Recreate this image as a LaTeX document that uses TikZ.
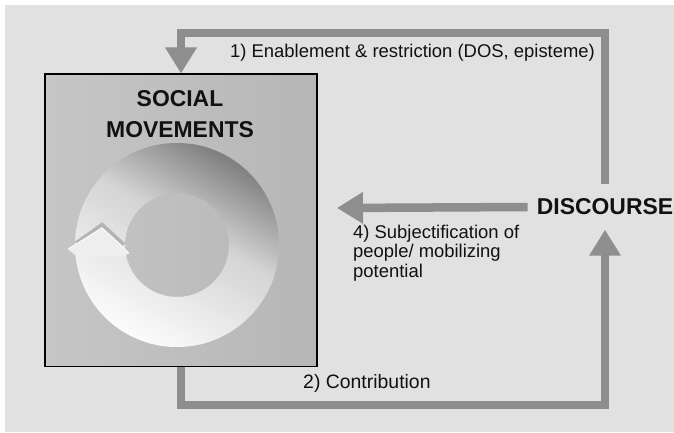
\documentclass[tikz,border=0pt]{standalone}
\usepackage{fontspec}
\setmainfont{Liberation Sans}
\usetikzlibrary{arrows.meta}
\definecolor{bgc}{HTML}{E1E1E1}
\definecolor{barc}{HTML}{8E8E8E}
\definecolor{boxl}{HTML}{C6C6C6}
\definecolor{boxr}{HTML}{B6B6B6}
\definecolor{ringd}{HTML}{7E7E7E}
\definecolor{ringm}{HTML}{D4D4D4}
\definecolor{ringl}{HTML}{FCFCFC}
\definecolor{chev}{HTML}{EEEEEE}
\definecolor{chevsh}{HTML}{B4B4B4}
\definecolor{txt}{HTML}{111111}
\begin{document}
\begin{tikzpicture}[x=1bp,y=1bp,
  bar/.style={draw=barc,line width=8.5bp,line join=miter},
  tip/.style={-{Triangle[width=30bp,length=26bp]}},
  lbl/.style={font=\fontsize{18.5}{20}\selectfont,inner sep=0pt,text=txt},
  title/.style={font=\fontsize{23}{31}\selectfont\bfseries,text=txt}]
\useasboundingbox[fill=white] (0,0) rectangle (674,432);
\fill[bgc] (5,0) rectangle (674,427);
% social movements box
\node[draw=black,line width=1.5bp,left color=boxl,right color=boxr,
      minimum width=272bp,minimum height=292bp,inner sep=0pt,anchor=south west] (box) at (44,65) {};
\node[title,align=center,inner sep=0pt] (sm) at (180,317.5) {SOCIAL\\MOVEMENTS};
% ring (gradient built from strips)
\begin{scope}[even odd rule]
  \clip (177,187) circle[radius=102bp] (177,187) circle[radius=52bp];
  \begin{scope}[rotate around={-30:(177,187)}]
    \foreach \i in {0,...,59}{
      \pgfmathsetmacro\t{(\i+0.5)/60}
      \pgfmathsetmacro\pa{min(100,100*\t/0.6)}
      \pgfmathsetmacro\pb{max(0,100*(\t-0.6)/0.4)}
      \pgfmathsetmacro\ya{85+\i*3.4}
      \pgfmathsetmacro\yb{85+(\i+1)*3.4+0.6}
      \ifdim\t pt<0.6pt
        \fill[ringm!\pa!ringl] (70,\ya) rectangle (284,\yb);
      \else
        \fill[ringd!\pb!ringm] (70,\ya) rectangle (284,\yb);
      \fi
    }
  \end{scope}
\end{scope}
\draw[chevsh,line width=3.5bp] (76,189) -- (102,207.5) -- (124,187.5);
\fill[chev] (68,183) -- (102,204) -- (129,179) -- (124,175) -- (75,177) -- cycle;
\draw[white,line width=0.8bp] (68,183) -- (102,204) -- (129,179);
% discourse
\node[title,minimum height=45bp,inner xsep=9bp,inner ysep=0pt] (disc) at (605,225) {DISCOURSE};
% connectors
\coordinate (tl) at (181,399);
\coordinate (bl) at (181,27);
\coordinate (h4) at (337,224);
\draw[bar,tip] (disc.north) |- (tl) -- (tl |- box.north);
\draw[bar,tip] (bl |- box.south) -- (bl) -| (disc.south);
\draw[bar,tip] (disc.west) -- (h4);
% labels
\node[lbl,anchor=west] (l1) at (230,379) {1) Enablement \& restriction (DOS, episteme)};
\node[lbl,anchor=north west,align=left] (l4) at (353,207.5) {4) Subjectification of\\people/ mobilizing\\potential};
\node[lbl,font=\fontsize{19.5}{20}\selectfont,anchor=west] (l2) at (303,49) {2) Contribution};
\end{tikzpicture}
\end{document}
